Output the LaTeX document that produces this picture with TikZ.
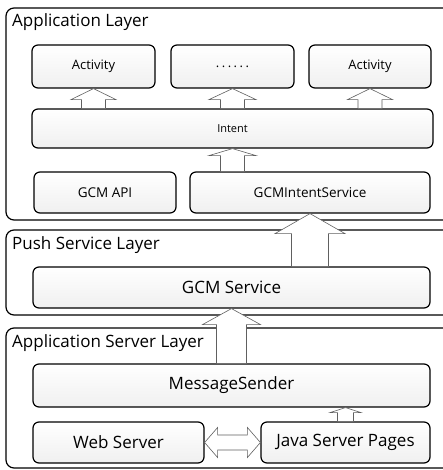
\documentclass[tikz,border=0pt]{standalone}
\usepackage{fontspec}
\setmainfont{Open Sans}
\usetikzlibrary{calc}
\tikzstyle{layer} = [draw, line width=1.2pt, rounded corners=8pt, fill=white]
\tikzstyle{layertitle} = [anchor=west, inner sep=0pt, font=\fontsize{17}{20}\selectfont]
\tikzstyle{module} = [draw, line width=1.2pt, rounded corners=6pt, top color=white, bottom color=gray!12, text centered, inner sep=0pt]
\tikzstyle{bigtext} = [font=\fontsize{17}{20}\selectfont]
\tikzstyle{midtext} = [font=\fontsize{13.5}{16}\selectfont]
\tikzstyle{blockarrow} = [draw=gray!75!black, line width=0.6pt, fill=white]
% hollow up arrow: from, to, shaft half width, head half width, head length
\newcommand{\blockup}[5]{%
  \draw [blockarrow] let \p1=(#1), \p2=(#2) in
    (\x2-#3,\y1) -- (\x2-#3,\y2-#5) -- (\x2-#4,\y2-#5) -- (\x2,\y2)
    -- (\x2+#4,\y2-#5) -- (\x2+#3,\y2-#5) -- (\x2+#3,\y1) -- cycle;}
% hollow double arrow, left to right
\newcommand{\blockboth}[5]{%
  \draw [blockarrow] let \p1=(#1), \p2=(#2) in
    (\x1,\y1) -- (\x1+#5,\y1+#4) -- (\x1+#5,\y1+#3) -- (\x2-#5,\y1+#3)
    -- (\x2-#5,\y1+#4) -- (\x2,\y1) -- (\x2-#5,\y1-#4) -- (\x2-#5,\y1-#3)
    -- (\x1+#5,\y1-#3) -- (\x1+#5,\y1-#4) -- cycle;}

\begin{document}
\begin{tikzpicture}[x=1pt, y=-1pt]
            \clip (0,0) rectangle (443,470);
            % layers
            \draw [layer] (6,8) rectangle (452,220);
            \draw [layer] (6,230) rectangle (452,315);
            \draw [layer] (6,328) rectangle (452,468);
            \node [layertitle] (applabel) at (12,22) {Application Layer};
            \node [layertitle] (pushlabel) at (12,245) {Push Service Layer};
            \node [layertitle] (serverlabel) at (12,343) {Application Server Layer};

            % application layer
            \node [module, minimum width=123pt, minimum height=43pt, font=\fontsize{13}{15}\selectfont] at (93.5,66.5) (act1) {Activity};
            \node [module, minimum width=123pt, minimum height=43pt, font=\fontsize{13}{15}\selectfont] at (232.5,66.5) (dots) {.\kern2.5pt.\kern2.5pt.\kern2.5pt.\kern2.5pt.\kern2.5pt.};
            \node [module, minimum width=122pt, minimum height=43pt, font=\fontsize{13}{15}\selectfont] at (370,66.5) (act2) {Activity};
            \node [module, minimum width=401pt, minimum height=39pt, font=\fontsize{11}{13}\selectfont] at (232.5,128.5) (intent) {Intent};
            \node [module, midtext, minimum width=142pt, minimum height=41pt] at (105,192.5) (gcmapi) {GCM API};
            \node [module, midtext, minimum width=240pt, minimum height=41pt] at (310,192.5) (gcmis) {GCMIntentService};

            % push service layer
            \node [module, bigtext, minimum width=397pt, minimum height=41pt] at (231.5,287.5) (gcmsvc) {GCM Service};

            % application server layer
            \node [module, bigtext, minimum width=397pt, minimum height=43pt] at (231.5,385.5) (sender) {MessageSender};
            \node [module, bigtext, minimum width=171pt, minimum height=41pt] at (118.5,442.5) (web) {Web Server};
            \node [module, bigtext, minimum width=169pt, minimum height=41pt] at (345.5,442.5) (jsp) {Java Server Pages};

            \blockup{intent.north -| act1.south}{act1.south}{12pt}{22.5pt}{11pt}
            \blockup{intent.north -| dots.south}{dots.south}{12pt}{23.5pt}{11pt}
            \blockup{intent.north -| act2.south}{act2.south}{12pt}{22.5pt}{11pt}
            \blockup{gcmis.north -| intent.south}{intent.south}{12pt}{23.5pt}{7pt}
            \blockup{gcmsvc.north -| gcmis.south}{gcmis.south}{18.5pt}{35pt}{20pt}
            \blockup{sender.north -| gcmsvc.south}{gcmsvc.south}{15pt}{29pt}{16pt}
            \blockup{jsp.north}{sender.south -| jsp.north}{8pt}{15.5pt}{5pt}
            \blockboth{web.east}{jsp.west}{7.5pt}{15pt}{13pt}
            \end{tikzpicture}
\end{document}
